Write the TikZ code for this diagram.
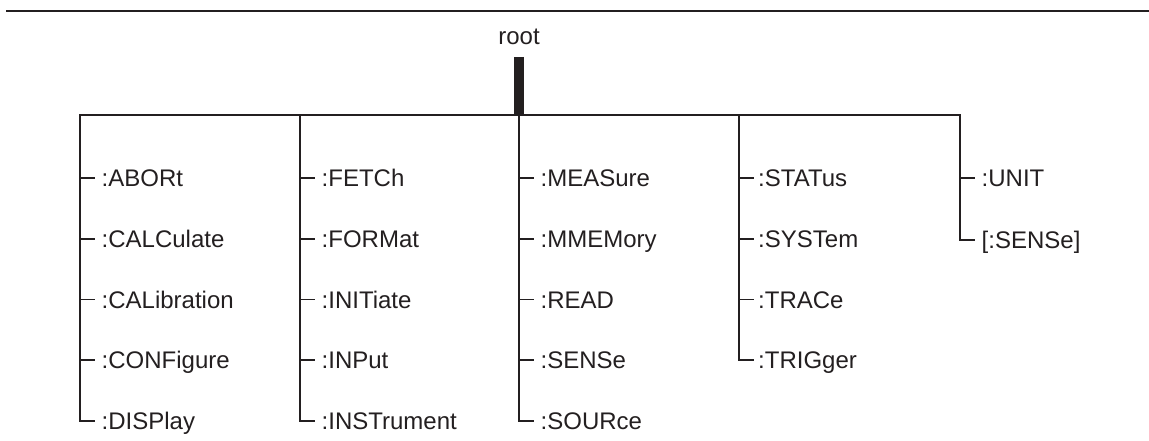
\documentclass[tikz,border=0pt]{standalone}
\usepackage{fontspec}
\setmainfont{Liberation Sans}
\definecolor{ink}{HTML}{231F20}
\begin{document}
\begin{tikzpicture}[x=1pt,y=-1pt, font=\fontsize{24}{28}\selectfont, color=ink,
  branch/.style={line width=1.5pt, line cap=rect},
  item/.style={anchor=west, inner xsep=7.5pt, inner ysep=0pt, text height=17.2pt, text depth=0pt},
  tight/.style={item, inner xsep=5pt}]
\useasboundingbox (0,0) rectangle (1149,441);
\draw [line width=1.8pt] (6,11) -- (1149,11);
\node (root) at (519,37) {root};
\coordinate (bartop) at (519,57);
\coordinate (bus) at (519,115);
\coordinate (c1) at (80,115);
\coordinate (c2) at (300,115);
\coordinate (c3) at (519,115);
\coordinate (c4) at (739,115);
\coordinate (c5) at (960,115);
\draw [line width=10pt] (bartop) -- (bus);
\draw [branch] (c1) -- (c5);
% first column
\node[item] (abort) at (94,178) {:ABORt};
\node[item] (calc) at (94,239) {:CALCulate};
\node[item] (calib) at (94,299.5) {:CALibration};
\node[item] (conf) at (94,360) {:CONFigure};
\node[item] (disp) at (94,421) {:DISPlay};
\draw [branch] (c1) |- (abort.west) (c1) |- (calc.west) (c1) |- (calib.west) (c1) |- (conf.west) (c1) |- (disp.west);
% second column
\node[item] (fetch) at (314,178) {:FETCh};
\node[item] (form) at (314,239) {:FORMat};
\node[item] (init) at (314,299.5) {:INITiate};
\node[item] (inp) at (314,360) {:INPut};
\node[item] (instr) at (314,421) {:INSTrument};
\draw [branch] (c2) |- (fetch.west) (c2) |- (form.west) (c2) |- (init.west) (c2) |- (inp.west) (c2) |- (instr.west);
% third column
\node[item] (meas) at (533,178) {:MEASure};
\node[item] (mmem) at (533,239) {:MMEMory};
\node[item] (read) at (533,299.5) {:READ};
\node[item] (sens) at (533,360) {:SENSe};
\node[item] (sour) at (533,421) {:SOURce};
\draw [branch] (c3) |- (meas.west) (c3) |- (mmem.west) (c3) |- (read.west) (c3) |- (sens.west) (c3) |- (sour.west);
% fourth column
\node[tight] (stat) at (753,178) {:STATus};
\node[tight] (syst) at (753,239) {:SYSTem};
\node[tight] (trac) at (753,299.5) {:TRACe};
\node[tight] (trig) at (753,360) {:TRIGger};
\draw [branch] (c4) |- (stat.west) (c4) |- (syst.west) (c4) |- (trac.west) (c4) |- (trig.west);
% fifth column
\node[item] (unit) at (974,178) {:UNIT};
\node[item] (dflt) at (974,240) {[:SENSe]};
\draw [branch] (c5) |- (unit.west) (c5) |- (dflt.west);
\end{tikzpicture}
\end{document}
